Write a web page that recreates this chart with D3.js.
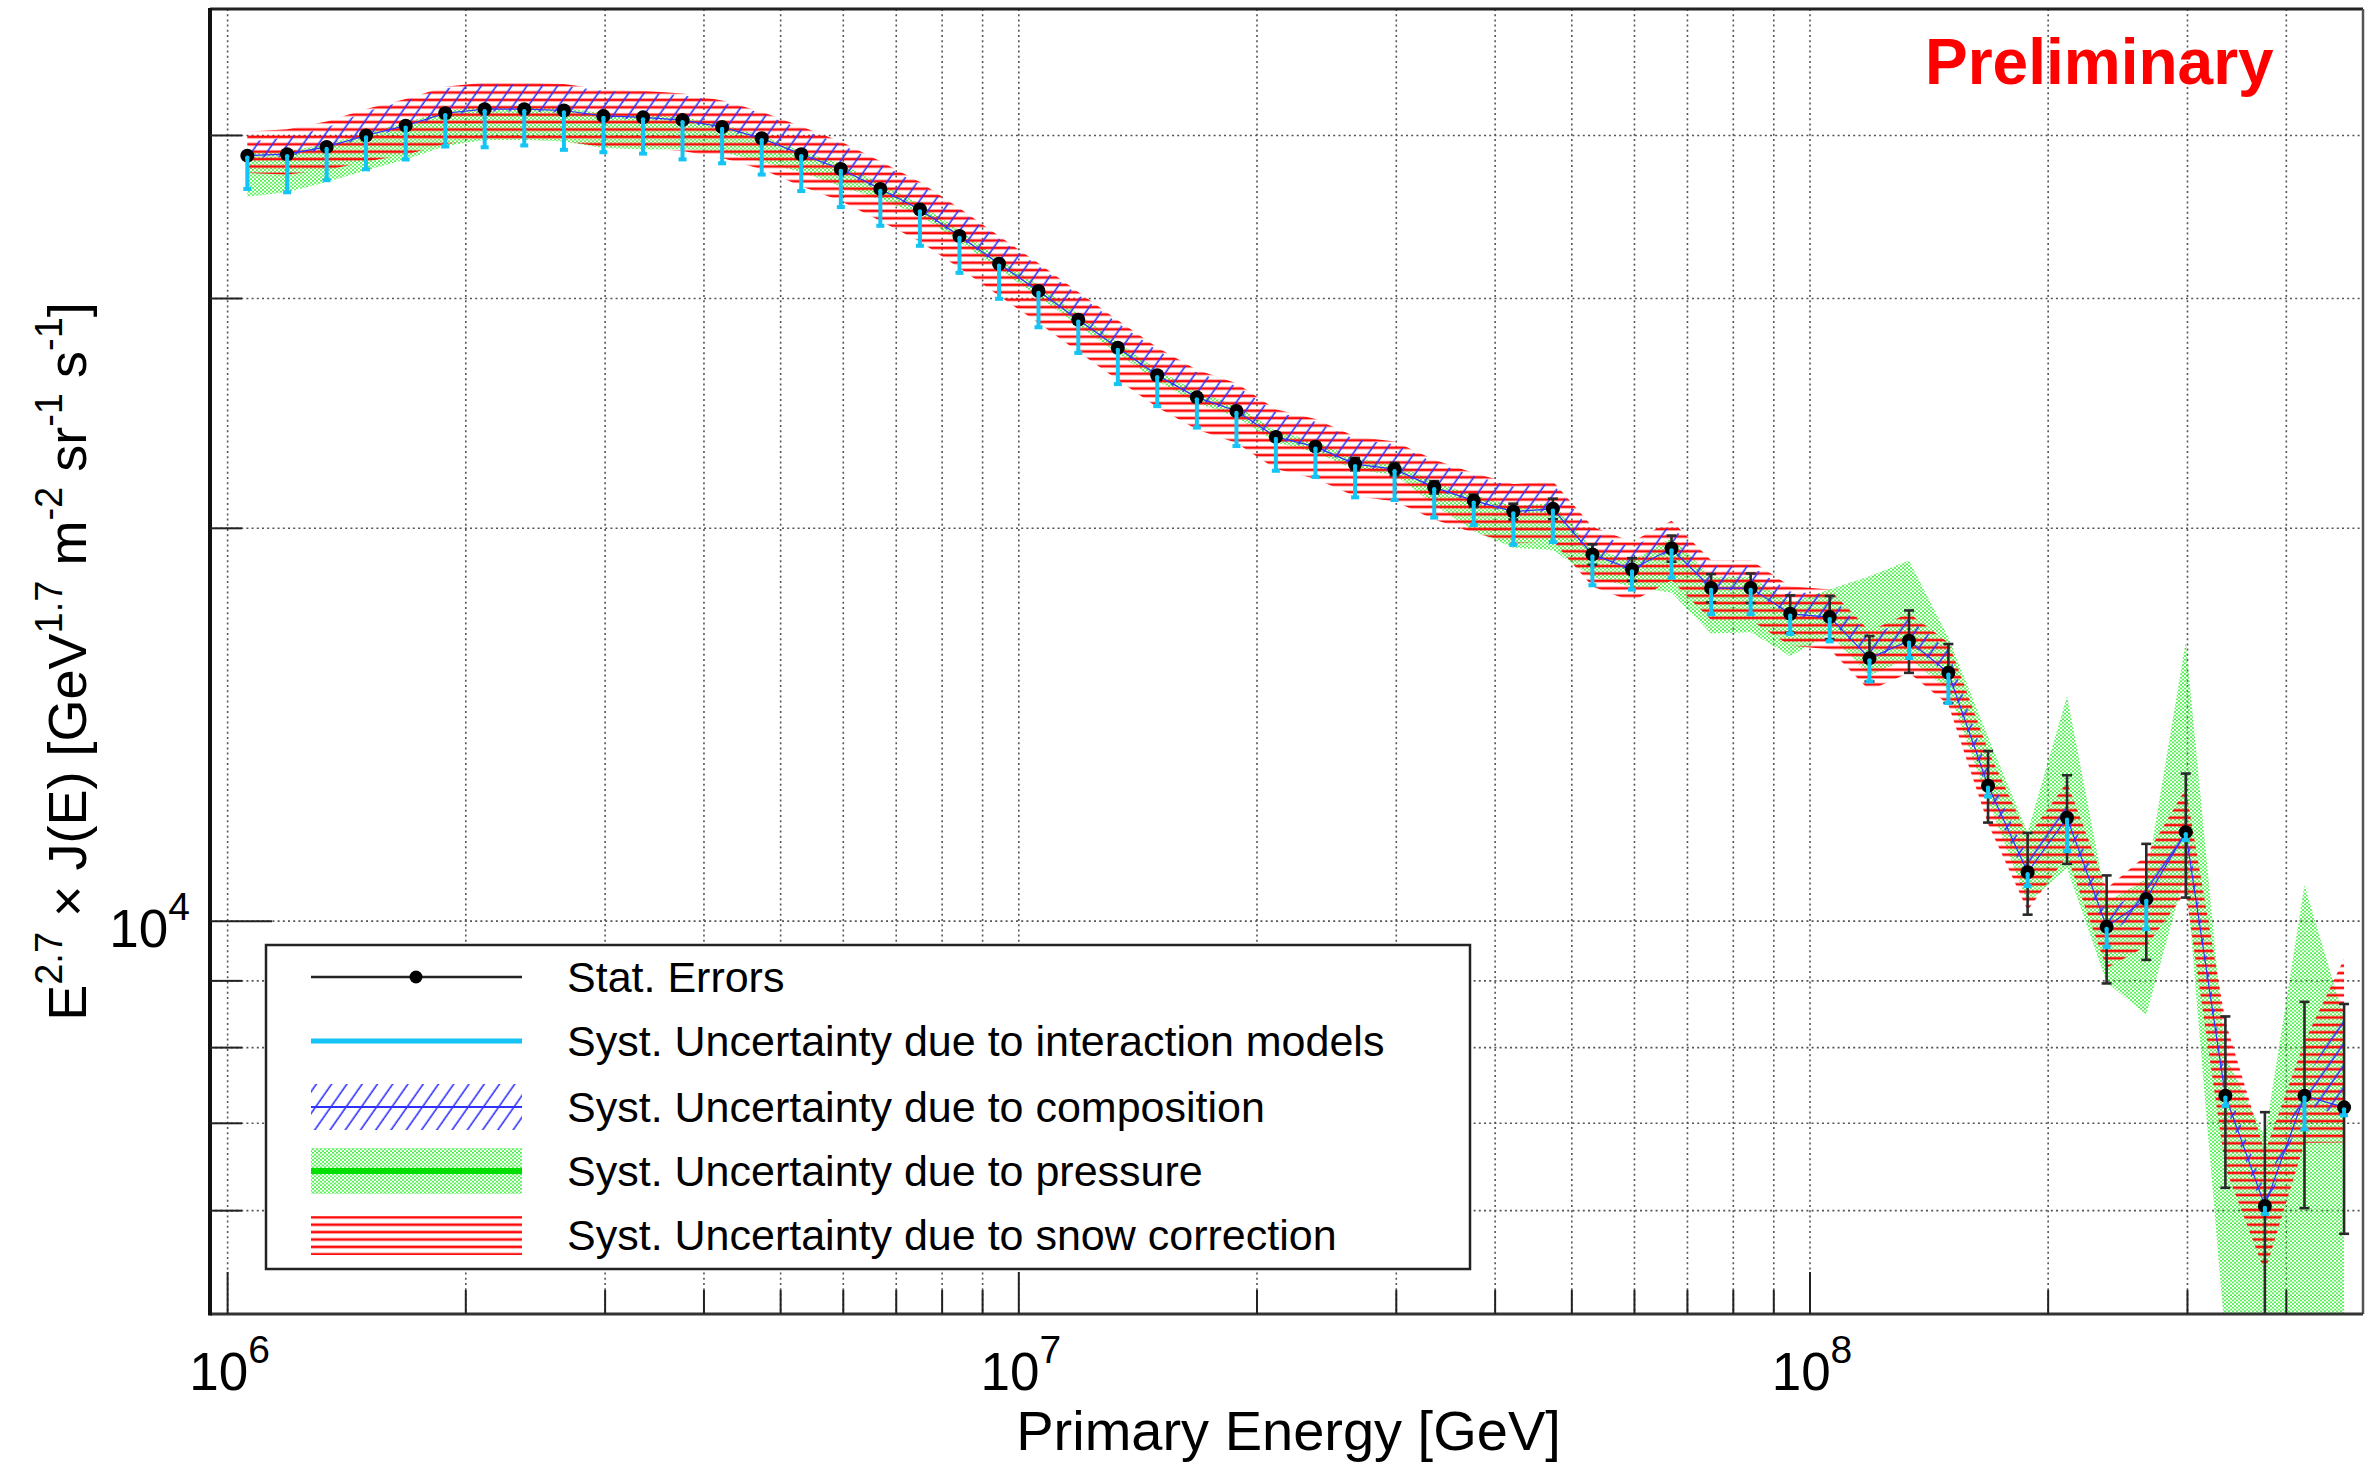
<!DOCTYPE html>
<html><head><meta charset="utf-8">
<script src="https://cdn.jsdelivr.net/npm/d3@7"></script>
<style>
body{margin:0;background:#fff;}
svg{display:block;font-family:"Liberation Sans",Arial,Helvetica,sans-serif;}
</style>
</head><body>
<svg id="chart" width="2371" height="1468"></svg>
<script>
// ---------------- DATA ----------------
const energy = [
  1.059e6,1.189e6,1.334e6,1.496e6,1.679e6,1.884e6,2.113e6,2.371e6,2.661e6,2.985e6,
  3.350e6,3.758e6,4.217e6,4.732e6,5.309e6,5.957e6,6.683e6,7.499e6,8.414e6,9.441e6,
  1.059e7,1.189e7,1.334e7,1.496e7,1.679e7,1.884e7,2.113e7,2.371e7,2.661e7,2.985e7,
  3.350e7,3.758e7,4.217e7,4.732e7,5.309e7,5.957e7,6.683e7,7.499e7,8.414e7,9.441e7,
  1.059e8,1.189e8,1.334e8,1.496e8,1.679e8,1.884e8,2.113e8,2.371e8,2.661e8,2.985e8,
  3.350e8,3.758e8,4.217e8,4.732e8
];
const flux = [
  38600,38700,39200,40000,40700,41600,41900,41900,41800,41400,
  41300,41100,40600,39800,38700,37700,36400,35100,33500,31900,
  30400,28900,27500,26200,25200,24600,23500,23100,22400,22200,
  21500,21000,20600,20700,19100,18600,19300,18000,18000,17200,
  17100,15900,16400,15500,12700,10900,12000,9900,10400,11700,
  7350,6050,7350,7200
];
// relative uncertainties in percent
const statErrPct = [
  0.35,0.35,0.35,0.35,0.35,0.35,0.35,0.35,0.35,0.35,
  0.35,0.5,0.5,0.5,0.5,0.5,0.5,0.5,0.5,0.5,
  0.5,0.7,0.7,0.7,0.7,0.7,0.7,0.7,1.1,1.1,
  1.1,1.1,1.4,1.8,1.8,2.0,2.3,2.5,2.6,3.3,
  3.8,4.0,5.5,5.2,6.3,7.2,7.8,9.5,10.2,10.9,
  15,18,18,20
];
const interactionDownPct = [
  5.7,6.5,5.7,5.8,5.8,5.7,6.5,6.2,6.7,6.2,
  6.2,6.7,6.2,6.2,6.3,6.5,6.3,6.2,6.3,6.0,
  6.2,5.7,6.2,5.3,5.2,6.0,5.8,5.2,5.7,5.3,
  5.2,4.2,5.7,5.7,5.3,3.5,5.0,4.5,4.5,3.5,
  4.2,4.0,3.0,5.2,1.9,2.4,5.7,3.5,5.2,1.4,
  1.8,1.4,5.8,1.4
];
const compositionUpPct = [
  2.5,3.0,3.5,4.3,4.5,4.5,4.5,4.5,4.5,4.5,
  4.5,4.5,4.5,4.5,4.5,4.5,4.5,4.5,4.5,4.5,
  4.5,4.5,4.5,4.5,4.5,4.5,4.5,4.5,4.5,4.5,
  4.5,4.5,4.5,4.5,4.0,4.0,4.0,4.0,4.0,4.0,
  4.0,4.0,4.0,4.0,2.5,2.5,2.5,2.5,2.5,2.5,
  2.5,2.5,2.5,18
];
const compositionDownPct = [
  0.4,0.4,0.4,0.4,0.4,0.4,0.4,0.4,0.4,0.4,
  0.4,0.4,0.4,0.4,0.4,0.4,0.4,0.4,0.4,0.4,
  0.4,0.4,0.4,0.4,0.4,0.4,0.4,0.4,0.4,0.4,
  0.4,0.4,0.4,0.4,0.4,0.4,0.4,0.4,0.4,0.4,
  0.4,0.4,0.4,0.4,1.5,1.5,1.5,1.5,1.5,1.5,
  1.5,1.5,1.5,1.5
];
const pressureUpPct = [
  0.5,0.5,0.5,0.5,0.5,0.5,0.5,0.5,0.5,0.5,
  0.5,0.5,0.5,0.5,0.5,1.0,1.0,1.0,1.0,1.0,
  1.0,1.0,1.0,1.0,1.0,1.0,1.0,1.0,1.0,1.0,
  1.0,1.0,1.0,1.0,1.0,1.5,2.0,2.0,2.0,2.0,
  5.0,15.6,15.2,6.4,9.0,7.3,24,4.5,3.6,40,
  7.3,13,45,17
];
const pressureDownPct = [
  7.0,6.5,6.0,6.0,5.8,5.6,5.3,5.3,5.3,5.5,
  5.5,5.0,4.3,4.1,3.1,3.0,1.8,1.0,1.0,1.0,
  1.0,1.0,1.0,1.0,1.0,1.0,1.0,1.0,1.0,1.0,
  3.0,5.2,6.2,7.0,4.0,3.0,7.5,7.7,7.5,7.2,
  3.0,3.0,3.0,3.0,2.6,5.2,8.5,9.3,18.5,6.8,
  35,27,32,31
];
const snowUpPct = [
  4.3,4.5,4.6,4.8,4.8,4.8,4.8,4.8,4.8,4.8,
  4.8,4.8,4.8,4.8,5.0,5.0,5.0,5.0,5.0,5.0,
  5.0,5.0,5.0,5.0,5.0,5.0,5.0,5.0,5.0,5.0,
  5.0,5.0,5.0,5.0,5.0,5.0,5.0,5.0,5.0,5.0,
  5.0,5.0,5.0,5.5,6.5,6.5,6.5,7,8,8,
  14,10,10,30
];
const snowDownPct = [
  3.0,3.5,4.0,4.5,5.0,5.3,5.3,5.3,5.3,5.3,
  5.3,5.3,5.3,5.3,5.5,5.5,5.5,5.5,5.5,5.5,
  5.5,5.5,5.5,5.5,5.5,5.5,5.5,5.5,5.5,5.5,
  5.5,5.5,5.5,5.5,5.5,5.5,5.5,5.5,5.5,5.5,
  5.5,5.5,5.5,5.5,6.5,6.5,6.5,7,8,10,
  12,11,8,6
];
const xMajorTicks = [1e6, 1e7, 1e8];
const xTickExponents = ["6", "7", "8"];
const yMajorTicks = [1e4];
const yTickExponents = ["4"];
const xTitle = "Primary Energy [GeV]";
const yTitleParts = [
  {t:"E"},{t:"2.7",sup:true},{t:" \u00d7 J(E) [GeV"},{t:"1.7",sup:true},
  {t:" m"},{t:"-2",sup:true},{t:" sr"},{t:"-1",sup:true},{t:" s"},{t:"-1",sup:true},{t:"]"}
];
const legendLabels = [
  "Stat. Errors",
  "Syst. Uncertainty due to interaction models",
  "Syst. Uncertainty due to composition",
  "Syst. Uncertainty due to pressure",
  "Syst. Uncertainty due to snow correction"
];
const watermark = "Preliminary";

// ---------------- CHART ----------------
const svg = d3.select("#chart");
const W = 2371, H = 1468;
const L = 210, R = 2363, T = 9, B = 1314;
const x = d3.scaleLog().domain([9.5e5, 5e8]).range([L, R]);
const y = d3.scaleLog().domain([5e3, 5e4]).range([B, T]);

const COL_CYAN = "#14c4f4", COL_BLUE = "#3030ff", COL_GREEN = "#22ee22", COL_RED = "#ff0a0a";

const defs = svg.append("defs");
defs.append("clipPath").attr("id","plotClip").append("rect")
  .attr("x",L).attr("y",T).attr("width",R-L).attr("height",B-T);
const pg = defs.append("pattern").attr("id","greenDots").attr("patternUnits","userSpaceOnUse")
  .attr("width",4).attr("height",3.6);
pg.append("circle").attr("cx",1).attr("cy",0.9).attr("r",0.95).attr("fill",COL_GREEN);
pg.append("circle").attr("cx",3).attr("cy",2.7).attr("r",0.95).attr("fill",COL_GREEN);
const pb = defs.append("pattern").attr("id","blueHatch").attr("patternUnits","userSpaceOnUse")
  .attr("width",12.5).attr("height",12.5).attr("patternTransform","rotate(35)");
pb.append("line").attr("x1",6).attr("y1",0).attr("x2",6).attr("y2",12.5)
  .attr("stroke",COL_BLUE).attr("stroke-width",1.6);
const pr = defs.append("pattern").attr("id","redLines").attr("patternUnits","userSpaceOnUse")
  .attr("width",20).attr("height",7.4);
pr.append("line").attr("x1",0).attr("y1",3.7).attr("x2",20).attr("y2",3.7)
  .attr("stroke",COL_RED).attr("stroke-width",2.6);

svg.append("rect").attr("width",W).attr("height",H).attr("fill","#fff");

// grid
const xGrid = x.ticks().filter(v => x(v) > L + 1 && x(v) < R - 1);
const yGrid = y.ticks().filter(v => y(v) > T + 1 && y(v) < B - 1);
const grid = svg.append("g").attr("stroke","#555").attr("stroke-width",1.6)
  .attr("stroke-dasharray","2,3.2");
grid.selectAll("line.gx").data(xGrid).join("line").attr("class","gx")
  .attr("x1",d=>x(d)).attr("x2",d=>x(d)).attr("y1",T).attr("y2",B);
grid.selectAll("line.gy").data(yGrid).join("line").attr("class","gy")
  .attr("x1",L).attr("x2",R).attr("y1",d=>y(d)).attr("y2",d=>y(d));

// data records
const pts = energy.map((e,i)=>({
  e, f: flux[i],
  stat: statErrPct[i]/100, inter: interactionDownPct[i]/100,
  cu: compositionUpPct[i]/100, cd: compositionDownPct[i]/100,
  pu: pressureUpPct[i]/100, pd: pressureDownPct[i]/100,
  su: snowUpPct[i]/100, sd: snowDownPct[i]/100
}));

const plot = svg.append("g").attr("clip-path","url(#plotClip)");
const band = (lo, hi) => d3.area().x(d=>x(d.e)).y0(d=>y(lo(d))).y1(d=>y(hi(d)));

plot.append("path").datum(pts).attr("fill","url(#greenDots)")
  .attr("d", band(d=>d.f*(1-d.pd), d=>d.f*(1+d.pu)));
plot.append("path").datum(pts).attr("fill","url(#redLines)")
  .attr("d", band(d=>d.f*(1-d.sd), d=>d.f*(1+d.su)));
plot.append("path").datum(pts).attr("fill","url(#blueHatch)")
  .attr("d", band(d=>d.f*(1-d.cd), d=>d.f*(1+d.cu)));
plot.append("path").datum(pts).attr("fill","none").attr("stroke",COL_BLUE).attr("stroke-width",1.2)
  .attr("d", d3.line().x(d=>x(d.e)).y(d=>y(d.f)));

// stat error bars
const sg = plot.append("g").attr("stroke","#2a2a2a").attr("stroke-width",2.6);
sg.selectAll("line.sb").data(pts).join("line").attr("class","sb")
  .attr("x1",d=>x(d.e)).attr("x2",d=>x(d.e))
  .attr("y1",d=>y(d.f*(1+d.stat))).attr("y2",d=>y(d.f*(1-d.stat)));
sg.selectAll("line.cu").data(pts).join("line").attr("class","cu")
  .attr("x1",d=>x(d.e)-5).attr("x2",d=>x(d.e)+5)
  .attr("y1",d=>y(d.f*(1+d.stat))).attr("y2",d=>y(d.f*(1+d.stat)));
sg.selectAll("line.cl").data(pts).join("line").attr("class","cl")
  .attr("x1",d=>x(d.e)-5).attr("x2",d=>x(d.e)+5)
  .attr("y1",d=>y(d.f*(1-d.stat))).attr("y2",d=>y(d.f*(1-d.stat)));

// markers
plot.selectAll("circle.m").data(pts).join("circle").attr("class","m")
  .attr("cx",d=>x(d.e)).attr("cy",d=>y(d.f)).attr("r",7).attr("fill","#000");

// interaction model (cyan) lower bars
const cg = plot.append("g").attr("stroke",COL_CYAN);
cg.selectAll("line.ib").data(pts).join("line").attr("class","ib").attr("stroke-width",4)
  .attr("x1",d=>x(d.e)).attr("x2",d=>x(d.e))
  .attr("y1",d=>y(d.f)+2).attr("y2",d=>y(d.f*(1-d.inter)));
cg.selectAll("line.ic").data(pts).join("line").attr("class","ic").attr("stroke-width",4)
  .attr("x1",d=>x(d.e)-4).attr("x2",d=>x(d.e)+4)
  .attr("y1",d=>y(d.f*(1-d.inter))).attr("y2",d=>y(d.f*(1-d.inter)));
plot.selectAll("circle.mc").data(pts).join("circle").attr("class","mc")
  .attr("cx",d=>x(d.e)).attr("cy",d=>y(d.f)+2).attr("r",2.2).attr("fill",COL_CYAN);

// frame
const fr = svg.append("g").attr("fill","none");
fr.append("line").attr("x1",L).attr("x2",R).attr("y1",T).attr("y2",T).attr("stroke","#222").attr("stroke-width",3);
fr.append("line").attr("x1",R).attr("x2",R).attr("y1",T).attr("y2",B).attr("stroke","#555").attr("stroke-width",2.5);
fr.append("line").attr("x1",L).attr("x2",R).attr("y1",B).attr("y2",B).attr("stroke","#333").attr("stroke-width",3);
fr.append("line").attr("x1",L).attr("x2",L).attr("y1",T-1).attr("y2",B+1.5).attr("stroke","#111").attr("stroke-width",4);

// ticks
const tk = svg.append("g").attr("stroke","#222").attr("stroke-width",2);
tk.selectAll("line.xt").data(xGrid).join("line").attr("class","xt")
  .attr("x1",d=>x(d)).attr("x2",d=>x(d)).attr("y1",B)
  .attr("y2",d=>xMajorTicks.includes(d) ? B-42 : B-24);
tk.selectAll("line.yt").data(yGrid).join("line").attr("class","yt")
  .attr("y1",d=>y(d)).attr("y2",d=>y(d)).attr("x1",L)
  .attr("x2",d=>yMajorTicks.includes(d) ? L+62 : L+32);

// tick labels
const FS = 53, FSS = 39;
xMajorTicks.forEach((v,i)=>{
  const t = svg.append("text").attr("x",x(v)+2).attr("y",1390).attr("text-anchor","middle")
    .attr("font-size",FS).attr("fill","#000");
  t.append("tspan").text("10");
  t.append("tspan").attr("dy",-27).attr("font-size",FSS).text(xTickExponents[i]);
});
yMajorTicks.forEach((v,i)=>{
  const t = svg.append("text").attr("x",L-20).attr("y",y(v)+26).attr("text-anchor","end")
    .attr("font-size",FS).attr("fill","#000");
  t.append("tspan").text("10");
  t.append("tspan").attr("dy",-27).attr("font-size",FSS).text(yTickExponents[i]);
});

// axis titles
svg.append("text").attr("x",(L+R)/2+2).attr("y",1450).attr("text-anchor","middle")
  .attr("font-size",56).attr("fill","#000").text(xTitle);
const yt = svg.append("text").attr("transform",`translate(86,${(T+B)/2}) rotate(-90)`)
  .attr("text-anchor","middle").attr("font-size",54).attr("fill","#000");
let raised = false;
yTitleParts.forEach(p=>{
  const s = yt.append("tspan").text(p.t);
  if (p.sup && !raised){ s.attr("dy",-24).attr("font-size",38); raised = true; }
  else if (p.sup){ s.attr("font-size",38); }
  else if (raised){ s.attr("dy",24); raised = false; }
});

// watermark
svg.append("text").attr("x",1925).attr("y",84).attr("font-size",64).attr("font-weight","bold")
  .attr("fill","#ff0000").text(watermark);

// legend
const lg = svg.append("g");
lg.append("rect").attr("x",266).attr("y",945).attr("width",1204).attr("height",324)
  .attr("fill","#fff").attr("stroke","#222").attr("stroke-width",2.5);
const rowY = [977, 1041, 1107, 1171, 1235];
const sx0 = 311, sx1 = 522;
// stat
lg.append("line").attr("x1",sx0).attr("x2",sx1).attr("y1",rowY[0]).attr("y2",rowY[0]).attr("stroke","#222").attr("stroke-width",2.5);
lg.append("circle").attr("cx",416).attr("cy",rowY[0]).attr("r",6.5).attr("fill","#000");
// interaction
lg.append("line").attr("x1",sx0).attr("x2",sx1).attr("y1",rowY[1]).attr("y2",rowY[1]).attr("stroke",COL_CYAN).attr("stroke-width",5);
// composition
lg.append("rect").attr("x",sx0).attr("y",rowY[2]-23).attr("width",sx1-sx0).attr("height",46).attr("fill","url(#blueHatch)");
lg.append("line").attr("x1",sx0).attr("x2",sx1).attr("y1",rowY[2]).attr("y2",rowY[2]).attr("stroke",COL_BLUE).attr("stroke-width",2.2);
// pressure
lg.append("rect").attr("x",sx0).attr("y",rowY[3]-23).attr("width",sx1-sx0).attr("height",46).attr("fill","url(#greenDots)");
lg.append("line").attr("x1",sx0).attr("x2",sx1).attr("y1",rowY[3]).attr("y2",rowY[3]).attr("stroke","#00e000").attr("stroke-width",6);
// snow
lg.append("rect").attr("x",sx0).attr("y",rowY[4]-19).attr("width",sx1-sx0).attr("height",39).attr("fill","url(#redLines)");
legendLabels.forEach((s,i)=>{
  lg.append("text").attr("x",567).attr("y",rowY[i]+15).attr("font-size",43).attr("fill","#000").text(s);
});
</script>
</body></html>
